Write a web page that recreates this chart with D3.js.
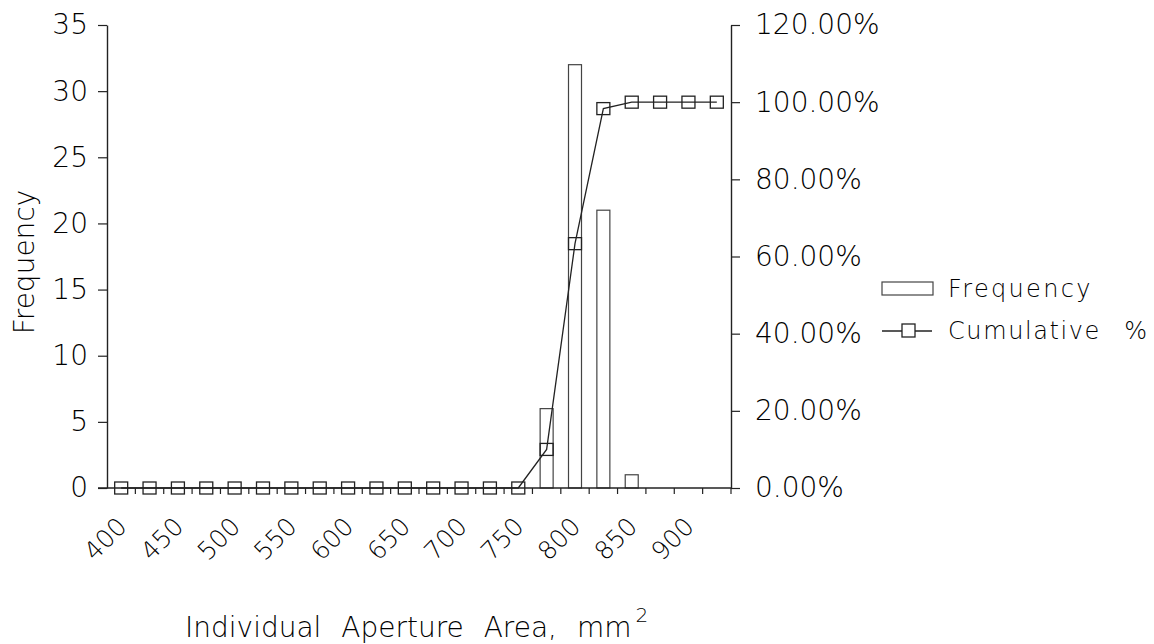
<!DOCTYPE html>
<html>
<head>
<meta charset="utf-8">
<script src="https://cdn.jsdelivr.net/npm/d3@7"></script>
<style>
  body { margin: 0; background: #fff; }
  text { font-family: "DejaVu Sans", sans-serif; font-weight: 200; fill: #000; }
</style>
</head>
<body>
<div id="chart"></div>
<script>
// data
const categories = [400, 425, 450, 475, 500, 525, 550, 575, 600, 625, 650,
  675, 700, 725, 750, 775, 800, 825, 850, 875, 900, 925];
const frequency = [0, 0, 0, 0, 0, 0, 0, 0, 0, 0, 0, 0, 0, 0, 0, 6, 32, 21, 1, 0, 0, 0];
const cumulative = [0, 0, 0, 0, 0, 0, 0, 0, 0, 0, 0, 0, 0, 0, 0,
  0.10, 0.6333, 0.9833, 1, 1, 1, 1];
const xTickLabels = ["400", "450", "500", "550", "600", "650", "700", "750", "800", "850", "900"];
const leftTicks = [0, 5, 10, 15, 20, 25, 30, 35];
const rightTicks = [0, 0.2, 0.4, 0.6, 0.8, 1.0, 1.2];

const ink = "#222";

let svg = d3.select("#chart").append("svg")
  .attr("width", 1154)
  .attr("height", 644);

// scales
let x = d3.scaleBand().domain(categories).range([107, 731]).padding(0);
let yLeft = d3.scaleLinear().domain([0, 35]).range([488, 25]);
let yRight = d3.scaleLinear().domain([0, 1.2]).range([488, 25]);

// bars
let barW = 13;
svg.append("g")
  .selectAll("rect")
  .data(frequency.map((v, i) => ({ c: categories[i], v: v })).filter(d => d.v > 0))
  .enter()
  .append("rect")
  .attr("x", d => x(d.c) + x.bandwidth() / 2 - barW / 2)
  .attr("y", d => yLeft(d.v))
  .attr("width", barW)
  .attr("height", d => yLeft(0) - yLeft(d.v))
  .attr("fill", "none")
  .attr("stroke", "#444")
  .attr("stroke-width", 1.2);

// left axis
let gl = svg.append("g").attr("transform", "translate(107,0)");
gl.call(d3.axisLeft(yLeft).tickValues(leftTicks).tickSize(9).tickPadding(10).tickSizeOuter(0));
gl.select(".domain").attr("stroke", ink).attr("stroke-width", 1.4);
gl.selectAll(".tick line").attr("stroke", ink).attr("stroke-width", 1.2);
gl.selectAll(".tick text").attr("font-size", 28).style("font-family", "DejaVu Sans").attr("fill", "#000");

// right axis
let gr = svg.append("g").attr("transform", "translate(731,0)");
gr.call(d3.axisRight(yRight).tickValues(rightTicks).tickSize(9).tickPadding(15).tickSizeOuter(0)
  .tickFormat(d => (d * 100).toFixed(2) + "%"));
gr.select(".domain").attr("stroke", ink).attr("stroke-width", 1.4);
gr.selectAll(".tick line").attr("stroke", ink).attr("stroke-width", 1.2);
gr.selectAll(".tick text").attr("font-size", 28).style("font-family", "DejaVu Sans").attr("fill", "#000");

// x axis: line with ticks at the category boundaries
let gx = svg.append("g");
gx.append("line")
  .attr("x1", 98).attr("x2", 731)
  .attr("y1", yLeft(0)).attr("y2", yLeft(0))
  .attr("stroke", ink).attr("stroke-width", 1.4);
gx.selectAll("line.tk")
  .data(categories.slice(1).concat(["end"]))
  .enter()
  .append("line")
  .attr("class", "tk")
  .attr("x1", d => d === "end" ? x.range()[1] : x(d))
  .attr("x2", d => d === "end" ? x.range()[1] : x(d))
  .attr("y1", yLeft(0))
  .attr("y2", yLeft(0) + 6)
  .attr("stroke", ink).attr("stroke-width", 1.2);

gx.selectAll("text")
  .data(xTickLabels)
  .enter()
  .append("text")
  .attr("transform", d => "translate(" + (x(+d) + x.bandwidth() / 2 + 7) + ",528) rotate(-45)")
  .attr("text-anchor", "end")
  .attr("font-size", 25)
  .text(d => d);

// cumulative line
let pts = cumulative.map((v, i) => ({ c: categories[i], v: v }));
let line = d3.line()
  .x(d => x(d.c) + x.bandwidth() / 2)
  .y(d => yRight(d.v));
svg.append("path")
  .datum(pts)
  .attr("d", line)
  .attr("fill", "none")
  .attr("stroke", ink)
  .attr("stroke-width", 1.3);

svg.append("g")
  .selectAll("rect")
  .data(pts)
  .enter()
  .append("rect")
  .attr("x", d => x(d.c) + x.bandwidth() / 2 - 6.5)
  .attr("y", d => yRight(d.v) - 6)
  .attr("width", 13)
  .attr("height", 12)
  .attr("fill", "none")
  .attr("stroke", ink)
  .attr("stroke-width", 1.3);

// axis titles
svg.append("text")
  .attr("transform", "translate(34,262) rotate(-90)")
  .attr("text-anchor", "middle")
  .attr("font-size", 28)
  .text("Frequency");

let xt = svg.append("text")
  .attr("x", 185)
  .attr("y", 637)
  .attr("font-size", 28)
  .attr("word-spacing", 11);
xt.append("tspan").text("Individual Aperture Area, mm");
xt.append("tspan").attr("font-size", 20).attr("dx", 4).attr("dy", -15).text("2");

// legend
let lg = svg.append("g");
lg.append("rect")
  .attr("x", 882).attr("y", 282).attr("width", 51).attr("height", 13)
  .attr("fill", "none").attr("stroke", "#444").attr("stroke-width", 1.2);
lg.append("text")
  .attr("x", 948).attr("y", 297)
  .attr("font-size", 24).attr("letter-spacing", 2.3)
  .text("Frequency");
lg.append("line")
  .attr("x1", 882).attr("x2", 932).attr("y1", 331).attr("y2", 331)
  .attr("stroke", ink).attr("stroke-width", 1.3);
lg.append("rect")
  .attr("x", 902).attr("y", 324).attr("width", 13).attr("height", 13)
  .attr("fill", "#fff").attr("stroke", ink).attr("stroke-width", 1.3);
lg.append("text")
  .attr("x", 948).attr("y", 339)
  .attr("font-size", 24).attr("letter-spacing", 1.6).attr("word-spacing", 14)
  .text("Cumulative %");
</script>
</body>
</html>
